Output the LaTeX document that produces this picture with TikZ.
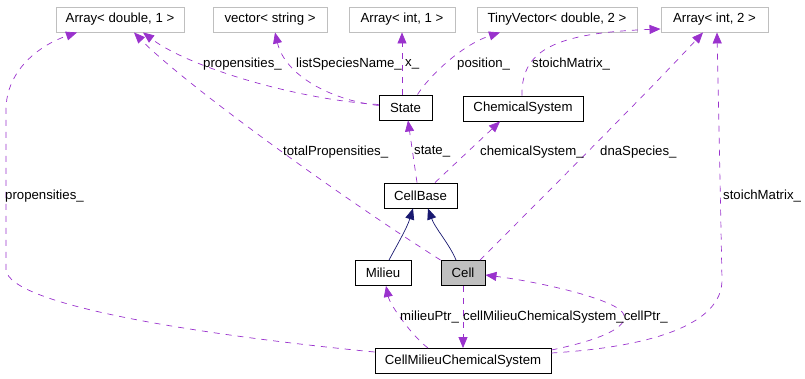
\documentclass[tikz,border=0pt]{standalone}
\usepackage{fontspec}
\setmainfont{Liberation Sans}
\usetikzlibrary{arrows.meta}
\definecolor{edgepurple}{HTML}{9A32CD}
\definecolor{inhnavy}{HTML}{191970}
\definecolor{extgray}{HTML}{BFBFBF}
\begin{document}
\begin{tikzpicture}[x=1pt,y=-1pt,
  every node/.style={font=\fontsize{13.2}{15}\selectfont},
  cls/.style={draw=black,line width=0.9pt,minimum height=25pt,inner sep=0pt,anchor=center},
  ext/.style={cls,draw=extgray},
  use/.style={draw=edgepurple,line width=0.7pt,dash pattern=on 6pt off 6pt,
    -{Triangle[length=11pt,width=9pt]}},
  inh/.style={draw=inhnavy,line width=0.7pt,-{Triangle[length=11pt,width=9pt]}},
  lbl/.style={inner sep=0pt,anchor=west}]
\useasboundingbox (0,0) rectangle (805,379);

% external types
\node[ext,minimum width=128pt] (adbl)  at (120,19.5)   {Array< double, 1 >};
\node[ext,minimum width=114pt] (vstr)  at (270,19.5)   {vector< string >};
\node[ext,minimum width=106pt] (aint1) at (402,19.5)   {Array< int, 1 >};
\node[ext,minimum width=160pt] (tvec)  at (557,19.5)   {TinyVector< double, 2 >};
\node[ext,minimum width=107pt] (aint2) at (714.5,19.5) {Array< int, 2 >};

% classes
\node[cls,minimum width=53pt]  (state)    at (405.5,107.5) {State};
\node[cls,minimum width=120pt] (chem)     at (523,108.5)   {ChemicalSystem};
\node[cls,minimum width=73pt]  (cellbase) at (420.5,195.5) {CellBase};
\node[cls,minimum width=56pt]  (milieu)   at (383,273)     {Milieu};
\node[cls,minimum width=44pt,fill=extgray] (cell) at (463,273) {Cell};
\node[cls,minimum width=176pt] (cmcs)     at (463,361)     {CellMilieuChemicalSystem};

% State members
\draw[use] ([yshift=3pt]state.west) .. controls (300,100) and (190,68) .. ([xshift=23pt]adbl.south);
\draw[use] ([yshift=2pt]state.west) .. controls (330,100) and (285,75) .. ([xshift=5pt]vstr.south);
\draw[use] ([xshift=-3.5pt]state.north) -- (aint1.south);
\draw[use] ([xshift=12pt]state.north) .. controls (430,75) and (462,45) .. ([xshift=-57pt]tvec.south);

% ChemicalSystem member
\draw[use] ([xshift=-1pt]chem.north) .. controls (521,50) and (555,33) .. ([yshift=-9.5pt]aint2.west);

% CellBase members
\draw[use] ([xshift=-3.5pt]cellbase.north) -- ([xshift=2.5pt]state.south);
\draw[use] ([xshift=14.5pt]cellbase.north) -- ([xshift=-23pt]chem.south);

% inheritance
\draw[inh] ([xshift=6pt]milieu.north) .. controls (397,245) and (407,228) .. ([xshift=-7.5pt]cellbase.south);
\draw[inh] ([xshift=-7pt]cell.north) .. controls (450,245) and (435,228) .. ([xshift=7.5pt]cellbase.south);

% Cell members
\draw[use] (cell.north west) .. controls (330,190) and (180,80) .. ([xshift=14pt]adbl.south);
\draw[use] ([xshift=17pt]cell.north) .. controls (530,210) and (650,90) .. ([xshift=-11.5pt]aint2.south);
\draw[use] (cell.south) -- (cmcs.north);

% CellMilieuChemicalSystem members
\draw[use] ([xshift=-35pt]cmcs.north) .. controls (412,336) and (390,305) .. ([xshift=3pt]milieu.south);
\draw[use] ([yshift=11pt]cmcs.east) .. controls (590,342) and (628,330) .. (624,315)
  .. controls (620,300) and (540,282) .. ([yshift=-2pt]cell.east);
\draw[use] ([yshift=8pt]cmcs.east) .. controls (650,347) and (722,325) .. (722,280)
  -- ([xshift=2.5pt]aint2.south);
\draw[use] ([yshift=9pt]cmcs.west) .. controls (200,335) and (10,305) .. (6,270)
  -- (6,110) .. controls (6,70) and (40,45) .. ([xshift=-43pt]adbl.south);

% edge labels
\node[lbl] (l1)  at (203,64)  {propensities\_};
\node[lbl] (l2)  at (296,64)  {listSpeciesName\_};
\node[lbl] (l3)  at (405,64)  {x\_};
\node[lbl] (l4)  at (457,64)  {position\_};
\node[lbl] (l5)  at (532,64)  {stoichMatrix\_};
\node[lbl] (l6)  at (283,152) {totalPropensities\_};
\node[lbl] (l7)  at (414,152) {state\_};
\node[lbl] (l8)  at (480,152) {chemicalSystem\_};
\node[lbl] (l9)  at (600,152) {dnaSpecies\_};
\node[lbl] (l10) at (5,196)   {propensities\_};
\node[lbl] (l11) at (723,196) {stoichMatrix\_};
\node[lbl] (l12) at (400,317) {milieuPtr\_};
\node[lbl] (l13) at (463,317) {cellMilieuChemicalSystem\_};
\node[inner sep=0pt,anchor=east] (l14) at (668,317) {cellPtr\_};
\end{tikzpicture}
\end{document}
